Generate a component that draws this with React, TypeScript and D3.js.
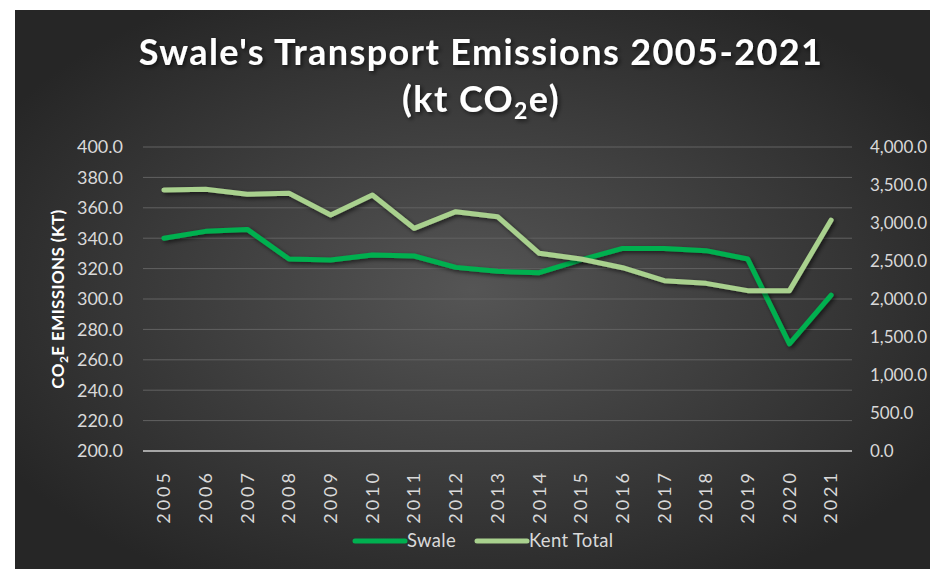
import { useEffect, useRef } from 'react';
import * as d3 from 'd3';

const years = ['2005', '2006', '2007', '2008', '2009', '2010', '2011', '2012', '2013', '2014', '2015', '2016', '2017', '2018', '2019', '2020', '2021'];
const swale = [340.0, 344.5, 345.8, 326.3, 325.7, 329.0, 328.3, 320.8, 318.2, 317.3, 325.7, 333.3, 333.3, 331.8, 326.3, 270.5, 302.6];
const kentTotal = [3434, 3443, 3378, 3391, 3105, 3368, 2930, 3149, 3083, 2601, 2526, 2412, 2241, 2206, 2110, 2110, 3039];
const leftTicks = [200, 220, 240, 260, 280, 300, 320, 340, 360, 380, 400];
const rightTicks = [0, 500, 1000, 1500, 2000, 2500, 3000, 3500, 4000];

const W = 930;
const H = 569;

export default function App() {
  const ref = useRef<SVGSVGElement>(null);

  useEffect(() => {
    const svg = d3.select(ref.current);
    svg.selectAll('*').remove();

    const font = 'Lato, "Open Sans", sans-serif';
    const defs = svg.append('defs');

    const grad = defs.append('radialGradient')
      .attr('id', 'bg')
      .attr('cx', '50%').attr('cy', '50%').attr('r', '60%');
    grad.append('stop').attr('offset', '0%').attr('stop-color', '#555555');
    grad.append('stop').attr('offset', '100%').attr('stop-color', '#262626');

    const shadow = defs.append('filter')
      .attr('id', 'shadow')
      .attr('x', '-10%').attr('y', '-20%').attr('width', '130%').attr('height', '150%');
    shadow.append('feDropShadow')
      .attr('dx', 2).attr('dy', 2).attr('stdDeviation', 2)
      .attr('flood-color', '#000').attr('flood-opacity', 0.6);

    // Background
    svg.append('rect')
      .attr('x', 15).attr('y', 10)
      .attr('width', W - 15).attr('height', H - 10)
      .attr('fill', 'url(#bg)');

    // Scales
    const x = d3.scalePoint()
      .domain(years)
      .range([143, 852])
      .padding(0.5);

    const yLeft = d3.scaleLinear().domain([200, 400]).range([451, 147]);
    const yRight = d3.scaleLinear().domain([0, 4000]).range([451, 147]);

    // Gridlines
    svg.append('g')
      .selectAll('line')
      .data(leftTicks.slice(1))
      .enter().append('line')
      .attr('x1', 143).attr('x2', 852)
      .attr('y1', d => yLeft(d)).attr('y2', d => yLeft(d))
      .attr('stroke', '#626262')
      .attr('stroke-width', 1);

    svg.append('line')
      .attr('x1', 143).attr('x2', 852)
      .attr('y1', yLeft(200)).attr('y2', yLeft(200))
      .attr('stroke', '#a6a6a6')
      .attr('stroke-width', 2);

    // Left ticks
    svg.append('g')
      .selectAll('text')
      .data(leftTicks)
      .enter().append('text')
      .attr('x', 123)
      .attr('y', d => yLeft(d))
      .attr('dy', '0.35em')
      .attr('text-anchor', 'end')
      .attr('font-family', font)
      .attr('font-size', 18)
      .attr('fill', '#d9d9d9')
      .text(d => d3.format('.1f')(d));

    // Right ticks
    svg.append('g')
      .selectAll('text')
      .data(rightTicks)
      .enter().append('text')
      .attr('x', 870)
      .attr('y', d => yRight(d))
      .attr('dy', '0.35em')
      .attr('text-anchor', 'start')
      .attr('font-family', font)
      .attr('font-size', 17)
      .attr('fill', '#d9d9d9')
      .text(d => d3.format(',.1f')(d));

    // X labels
    svg.append('g')
      .selectAll('text')
      .data(years)
      .enter().append('text')
      .attr('transform', d => `translate(${x(d)},470) rotate(-90)`)
      .attr('dy', '0.35em')
      .attr('text-anchor', 'end')
      .attr('font-family', font)
      .attr('font-size', 18)
      .attr('letter-spacing', 3)
      .attr('fill', '#d9d9d9')
      .text(d => d);

    // Y axis title
    const yTitle = svg.append('text')
      .attr('transform', 'translate(58,299) rotate(-90)')
      .attr('dy', '0.35em')
      .attr('text-anchor', 'middle')
      .attr('font-family', font)
      .attr('font-size', 17)
      .attr('font-weight', 'bold')
      .attr('letter-spacing', 0.4)
      .attr('fill', '#ffffff');
    yTitle.append('tspan').text('CO');
    yTitle.append('tspan').attr('font-size', 12).attr('dy', 4).text('2');
    yTitle.append('tspan').attr('dy', -4).text('E EMISSIONS (KT)');

    // Lines
    const swaleLine = d3.line<number>()
      .x((d, i) => x(years[i]) as number)
      .y(d => yLeft(d));

    const kentLine = d3.line<number>()
      .x((d, i) => x(years[i]) as number)
      .y(d => yRight(d));

    svg.append('path')
      .datum(swale)
      .attr('fill', 'none')
      .attr('stroke', '#00b050')
      .attr('stroke-width', 5)
      .attr('stroke-linecap', 'round')
      .attr('stroke-linejoin', 'round')
      .attr('filter', 'url(#shadow)')
      .attr('d', swaleLine);

    svg.append('path')
      .datum(kentTotal)
      .attr('fill', 'none')
      .attr('stroke', '#a9d18e')
      .attr('stroke-width', 5)
      .attr('stroke-linecap', 'round')
      .attr('stroke-linejoin', 'round')
      .attr('filter', 'url(#shadow)')
      .attr('d', kentLine);

    // Title
    const title = svg.append('g')
      .attr('font-family', font)
      .attr('font-weight', 'bold')
      .attr('font-size', 36)
      .attr('fill', '#ffffff')
      .attr('text-anchor', 'middle')
      .attr('filter', 'url(#shadow)');

    title.append('text')
      .attr('x', 481).attr('y', 65)
      .attr('letter-spacing', 1.4)
      .text("Swale's Transport Emissions 2005-2021");

    const t2 = title.append('text')
      .attr('x', 481).attr('y', 112)
      .attr('letter-spacing', 1.4);
    t2.append('tspan').text('(kt CO');
    t2.append('tspan').attr('font-size', 23).attr('dy', 7).text('2');
    t2.append('tspan').attr('dy', -7).text('e)');

    // Legend
    const legend = svg.append('g')
      .selectAll('g')
      .data([
        { label: 'Swale', color: '#00b050', x: 355 },
        { label: 'Kent Total', color: '#a9d18e', x: 477 }
      ])
      .enter().append('g')
      .attr('transform', d => `translate(${d.x},541)`);

    legend.append('line')
      .attr('x1', 0).attr('x2', 50)
      .attr('stroke', d => d.color)
      .attr('stroke-width', 5)
      .attr('stroke-linecap', 'round');

    legend.append('text')
      .attr('x', 52)
      .attr('dy', '0.35em')
      .attr('font-family', font)
      .attr('font-size', 18.5)
      .attr('letter-spacing', 0.3)
      .attr('fill', '#d9d9d9')
      .text(d => d.label);
  }, []);

  return (
    <svg
      ref={ref}
      width={W}
      height={H}
      style={{ position: 'absolute', left: 0, top: 0, background: '#ffffff' }}
    />
  );
}
